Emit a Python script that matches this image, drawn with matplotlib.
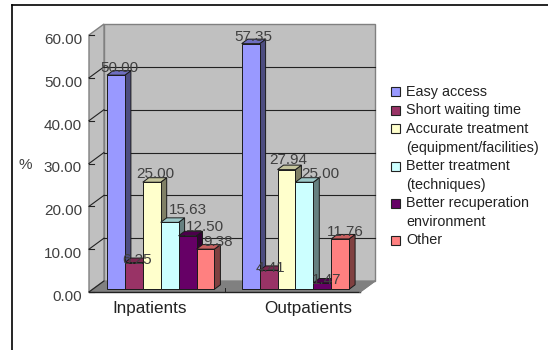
import matplotlib
matplotlib.use("Agg")
import matplotlib.pyplot as plt
from matplotlib.patches import Polygon, Rectangle

groups = ["Inpatients", "Outpatients"]
series = ["Easy access", "Short waiting time", "Accurate treatment\n(equipment/facilities)",
          "Better treatment\n(techniques)", "Better recuperation\nenvironment", "Other"]
inpatients = [50.00, 6.25, 25.00, 15.63, 12.50, 9.38]
outpatients = [57.35, 4.41, 27.94, 25.00, 1.47, 11.76]
yticks = [0, 10, 20, 30, 40, 50, 60]

front = ["#9999FF", "#993366", "#FFFFCC", "#CCFFFF", "#660066", "#FF8080"]
top = ["#6E6EC0", "#7A2850", "#C4C49C", "#9CC8C8", "#4C004C", "#C86060"]
side = ["#4D4D80", "#4D1A33", "#808066", "#668080", "#330033", "#804040"]

# label offsets from the top centre of each bar's front face (pixels)
label_off = [[3, 7.3], [3, 2.5], [4, 8.3], [18, 12.4], [17.5, 8.8], [13, 7.5],
             [2.3, 7], [2, 2.7], [1.5, 9.7], [16.3, 8.6], [4.4, 3], [4.8, 7.3]]

W, H = 548, 350
fig = plt.figure(figsize=(W / 100, H / 100), dpi=100, facecolor="white")
plt.rcParams["font.family"] = ["Liberation Sans", "DejaVu Sans"]
L, R, Y0, Y60 = 89, 360, 292, 35
ax = fig.add_axes([L / W, 1 - Y0 / H, (R - L) / W, (Y0 - Y60) / H])
ax.set_xlim(0, 2)
ax.set_ylim(0, 60)
ax.axis("off")

px = 2 / (R - L)          # data units per pixel
py = 60 / (Y0 - Y60)
DX, DY = 15 * px, 11 * py  # wall depth
TXT = "#404040"


def poly(pts, fc, ec="none", lw=0, z=1):
    ax.add_patch(Polygon(pts, closed=True, fc=fc, ec=ec, lw=lw, zorder=z, clip_on=False))


# walls and floor
poly([(DX, DY), (2 + DX, DY), (2 + DX, 60 + DY), (DX, 60 + DY)], "#C0C0C0", "#808080", 1.0)
poly([(0, 0), (DX, DY), (DX, 60 + DY), (0, 60)], "#C0C0C0", "#808080", 1.0)
poly([(0, 0), (DX, DY), (2 + DX, DY), (2, 0)], "#808080", "#808080", 0.8)
for v in yticks[1:-1]:
    ax.plot([DX, 2 + DX], [v + DY, v + DY], color="#222222", lw=0.8, zorder=2, clip_on=False)
for v in yticks[:-1]:
    ax.plot([0, DX], [v, v + DY], color="#222222", lw=0.8, zorder=2, clip_on=False)
for v in yticks:
    ax.plot([0, 5 * px], [v, v], color="#222222", lw=0.8, zorder=3, clip_on=False)
    ax.annotate(f"{v:.2f}", (0, v), xytext=(-7 * 0.72, -5 * 0.72), textcoords="offset points",
                ha="right", va="center", fontsize=11, color=TXT)
ax.plot([0, 2], [0, 0], color="#222222", lw=1.0, zorder=3, clip_on=False)
ax.plot([2, 2 + DX], [0, DY], color="#808080", lw=1.0, zorder=3, clip_on=False)
ax.plot([1, 1], [0, 4 * py], color="#222222", lw=0.7, zorder=3, clip_on=False)

# 3-D bars
bw = 17.9 * px
bdx, bdy = 6 * px, 4.5 * py
base = 2.7 * py
starts = [18 * px, 152.7 * px]
for g, (vals, x0) in enumerate(zip([inpatients, outpatients], starts)):
    for i, v in enumerate(vals):
        xl = x0 + i * bw
        xr = xl + bw
        top_y = base + v
        z = 5 + i * 0.01 + g
        ek = dict(ec="#1a1a1a", lw=0.7, z=z)
        poly([(xr, base), (xr + bdx, base + bdy), (xr + bdx, top_y + bdy), (xr, top_y)], side[i], **ek)
        poly([(xl, top_y), (xl + bdx, top_y + bdy), (xr + bdx, top_y + bdy), (xr, top_y)], top[i], **ek)
        poly([(xl, base), (xr, base), (xr, top_y), (xl, top_y)], front[i], **ek)
        ox, oy = label_off[g * 6 + i]
        ax.annotate(f"{v:.2f}", ((xl + xr) / 2, top_y), xytext=(ox * 0.72, oy * 0.72),
                    textcoords="offset points", ha="center", va="center",
                    fontsize=11, color=TXT, zorder=20, clip_on=False)

# category labels
for g, xc in zip(groups, [0.445, 1.62]):
    ax.annotate(g, (xc, 0), xytext=(0, -16 * 0.72), textcoords="offset points",
                ha="center", va="center", fontsize=12.3, color="#222222")

# axis title
fig.text(25 / W, 1 - 165 / H, "%", fontsize=11, color=TXT, ha="center", va="center")

# legend
line_y = 91.7
step = 18.6
for name, c in zip(series, front):
    fig.add_artist(Rectangle((391 / W, 1 - (line_y + 4.5) / H), 9 / W, 9 / H, fc=c, ec="#222222",
                             lw=0.8, transform=fig.transFigure))
    for part in name.split("\n"):
        fig.text(406 / W, 1 - line_y / H, part, fontsize=10.4, color="#222222", va="center", ha="left")
        line_y += step

# outer frame (top and left only are visible)
fig.add_artist(plt.Line2D([12 / W, 12 / W], [0, 1 - 4.5 / H], color="black", lw=1.2))
fig.add_artist(plt.Line2D([12 / W, 1], [1 - 4.5 / H, 1 - 4.5 / H], color="black", lw=1.2))

fig.savefig("out.png", dpi=100, facecolor="white")
